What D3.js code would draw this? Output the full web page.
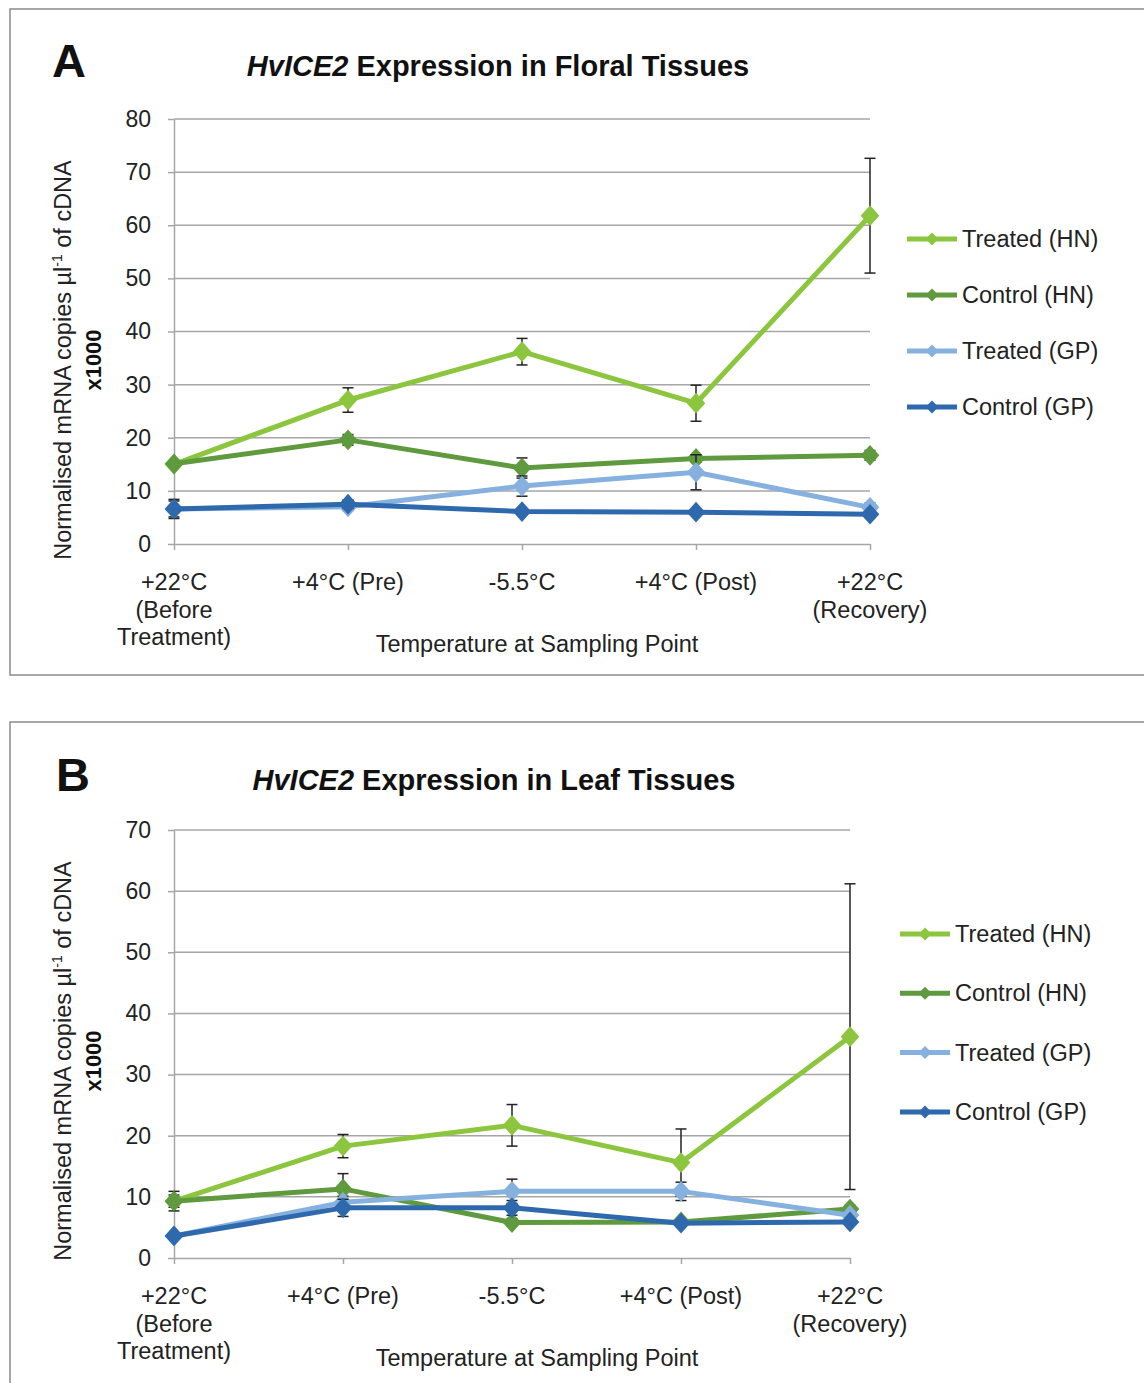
<!DOCTYPE html>
<html>
<head>
<meta charset="utf-8">
<script src="https://cdn.jsdelivr.net/npm/d3@7"></script>
<style>
  body { margin: 0; background: #fff; }
  svg { display: block; font-family: "Liberation Sans", Arial, sans-serif; }
</style>
</head>
<body>
<svg id="chart" width="1144" height="1383"></svg>
<script>
// sampling points (multi-line labels)
var categories = [
    ["+22°C", "(Before", "Treatment)"],
    ["+4°C (Pre)"],
    ["-5.5°C"],
    ["+4°C (Post)"],
    ["+22°C", "(Recovery)"]
];
var seriesNames = ["Treated (HN)", "Control (HN)", "Treated (GP)", "Control (GP)"];
var seriesColors = ["#8cc63e", "#5f9a3e", "#86b1df", "#2f69ad"];

// panel A - floral tissues (x1000 copies)
var floralTreatedHN = [15.0, 27.1, 36.2, 26.5, 61.8];
var floralTreatedHNErr = [0.5, 2.3, 2.5, 3.4, 10.8];
var floralControlHN = [15.1, 19.6, 14.3, 16.1, 16.7];
var floralControlHNErr = [0.5, 1.0, 1.9, 0.7, 0.9];
var floralTreatedGP = [6.6, 7.0, 10.9, 13.5, 6.9];
var floralTreatedGPErr = [1.5, 0.7, 1.9, 3.3, 0.8];
var floralControlGP = [6.6, 7.5, 6.1, 6.0, 5.6];
var floralControlGPErr = [1.8, 0.8, 0.5, 0.5, 0.4];

// panel B - leaf tissues
var leafTreatedHN = [9.3, 18.3, 21.7, 15.6, 36.2];
var leafTreatedHNErr = [1.0, 1.9, 3.4, 5.5, 25.0];
var leafControlHN = [9.3, 11.3, 5.8, 5.9, 8.0];
var leafControlHNErr = [1.6, 2.5, 0.6, 0.5, 0.6];
var leafTreatedGP = [3.6, 9.1, 10.9, 10.9, 7.0];
var leafTreatedGPErr = [0.5, 1.0, 2.0, 1.5, 0.6];
var leafControlGP = [3.6, 8.2, 8.2, 5.7, 5.9];
var leafControlGPErr = [0.4, 1.4, 1.2, 0.4, 0.4];

var svg = d3.select("#chart");
var gridColor = "#a6a6a6";
var textColor = "#222";
var fs = 23.5;

function drawPanel(p) {
    var g = svg.append("g");

    // frame
    g.append("rect")
        .attr("x", 10).attr("y", p.top)
        .attr("width", 1150).attr("height", p.frameH)
        .attr("fill", "none").attr("stroke", "#8c8c8c").attr("stroke-width", 1.5);

    // panel letter + title
    g.append("text")
        .attr("x", p.letterX).attr("y", p.titleY + 1)
        .attr("font-size", 47).attr("font-weight", "bold").attr("fill", "#111")
        .text(p.letter);
    var t = g.append("text")
        .attr("x", p.titleX).attr("y", p.titleY)
        .attr("text-anchor", "middle")
        .attr("font-size", 29).attr("font-weight", "bold").attr("fill", "#111");
    t.append("tspan").attr("font-style", "italic").text("HvICE2");
    t.append("tspan").text(" Expression in " + p.tissue + " Tissues");

    var x = d3.scalePoint()
        .domain(d3.range(categories.length))
        .range([174, p.right]);
    var y = d3.scaleLinear()
        .domain([0, p.ymax])
        .range([p.y0, p.yTop]);

    // gridlines
    g.append("g").selectAll("line")
        .data(d3.range(10, p.ymax + 1, 10))
        .join("line")
        .attr("x1", 174).attr("x2", p.right)
        .attr("y1", function(d) { return y(d); })
        .attr("y2", function(d) { return y(d); })
        .attr("stroke", gridColor).attr("stroke-width", 1.5);

    // y axis
    var yAxis = g.append("g")
        .attr("transform", "translate(174,0)")
        .call(d3.axisLeft(y).tickValues(d3.range(0, p.ymax + 1, 10)).tickSize(6).tickPadding(17).tickSizeOuter(0));
    yAxis.select(".domain").attr("stroke", gridColor).attr("stroke-width", 1.5);
    yAxis.selectAll(".tick line").attr("stroke", gridColor).attr("stroke-width", 1.5);
    yAxis.selectAll(".tick text")
        .attr("font-size", 23).attr("fill", textColor)
        .attr("font-family", "Liberation Sans, Arial, sans-serif");

    // x axis
    var xAxis = g.append("g")
        .attr("transform", "translate(0," + p.y0 + ")")
        .call(d3.axisBottom(x).tickSize(6).tickSizeOuter(0).tickFormat(""));
    xAxis.select(".domain").attr("stroke", gridColor).attr("stroke-width", 1.5);
    xAxis.selectAll(".tick line").attr("stroke", gridColor).attr("stroke-width", 1.5);

    categories.forEach(function(lines, i) {
        var lab = g.append("text")
            .attr("x", x(i)).attr("y", p.y0 + 46)
            .attr("text-anchor", "middle")
            .attr("font-size", fs).attr("fill", textColor);
        lines.forEach(function(s, k) {
            lab.append("tspan").attr("x", x(i)).attr("dy", k == 0 ? 0 : 27.5).text(s);
        });
    });

    // axis titles
    g.append("text")
        .attr("x", 537).attr("y", p.y0 + 108)
        .attr("text-anchor", "middle")
        .attr("font-size", fs).attr("fill", textColor)
        .text("Temperature at Sampling Point");

    var yl = g.append("text")
        .attr("transform", "translate(71," + p.labelY + ") rotate(-90)")
        .attr("text-anchor", "middle")
        .attr("font-size", fs).attr("fill", textColor);
    yl.append("tspan").text("Normalised mRNA copies µl");
    yl.append("tspan").attr("font-size", 14).attr("dy", -9).text("-1");
    yl.append("tspan").attr("dy", 9).text(" of cDNA");
    g.append("text")
        .attr("transform", "translate(101," + p.labelY + ") rotate(-90)")
        .attr("text-anchor", "middle")
        .attr("font-size", 22).attr("font-weight", "bold").attr("fill", "#111")
        .text("x1000");

    // series
    var line = d3.line()
        .x(function(d, i) { return x(i); })
        .y(function(d) { return y(d); });
    var diamond = d3.symbol().type(d3.symbolSquare).size(215);

    p.series.forEach(function(vals, s) {
        var errs = p.errors[s];
        var sg = g.append("g");

        // error bars
        vals.forEach(function(v, i) {
            var cx = x(i), lo = y(v - errs[i]), hi = y(v + errs[i]);
            sg.append("line").attr("x1", cx).attr("x2", cx).attr("y1", lo).attr("y2", hi)
                .attr("stroke", "#222").attr("stroke-width", 1.5);
            [lo, hi].forEach(function(yy) {
                sg.append("line").attr("x1", cx - 5.5).attr("x2", cx + 5.5).attr("y1", yy).attr("y2", yy)
                    .attr("stroke", "#222").attr("stroke-width", 1.5);
            });
        });

        sg.append("path")
            .datum(vals)
            .attr("d", line)
            .attr("fill", "none")
            .attr("stroke", seriesColors[s])
            .attr("stroke-width", 5)
            .attr("stroke-linejoin", "round");

        sg.selectAll(".mk")
            .data(vals)
            .join("path")
            .attr("transform", function(d, i) { return "translate(" + x(i) + "," + y(d) + ") scale(0.9,1) rotate(45)"; })
            .attr("d", diamond)
            .attr("fill", seriesColors[s]);
    });

    // legend
    seriesNames.forEach(function(name, s) {
        var ly = p.legendY + s * p.legendGap;
        g.append("line")
            .attr("x1", p.legendX).attr("x2", p.legendX + 50)
            .attr("y1", ly).attr("y2", ly)
            .attr("stroke", seriesColors[s]).attr("stroke-width", 5);
        g.append("path")
            .attr("transform", "translate(" + (p.legendX + 25) + "," + ly + ") rotate(45)")
            .attr("d", d3.symbol().type(d3.symbolSquare).size(85))
            .attr("fill", seriesColors[s]);
        g.append("text")
            .attr("x", p.legendX + 55).attr("y", ly + 8)
            .attr("font-size", fs).attr("fill", textColor)
            .text(name);
    });
}

drawPanel({
    letter: "A", tissue: "Floral",
    top: 9, frameH: 666,
    letterX: 52, titleX: 498, titleY: 76,
    right: 870, y0: 544, yTop: 119, ymax: 80,
    labelY: 360,
    legendX: 907, legendY: 239, legendGap: 56,
    series: [floralTreatedHN, floralControlHN, floralTreatedGP, floralControlGP],
    errors: [floralTreatedHNErr, floralControlHNErr, floralTreatedGPErr, floralControlGPErr]
});

drawPanel({
    letter: "B", tissue: "Leaf",
    top: 722, frameH: 700,
    letterX: 56, titleX: 494, titleY: 790,
    right: 850, y0: 1258, yTop: 830, ymax: 70,
    labelY: 1061,
    legendX: 900, legendY: 934, legendGap: 59.3,
    series: [leafTreatedHN, leafControlHN, leafTreatedGP, leafControlGP],
    errors: [leafTreatedHNErr, leafControlHNErr, leafTreatedGPErr, leafControlGPErr]
});
</script>
</body>
</html>
